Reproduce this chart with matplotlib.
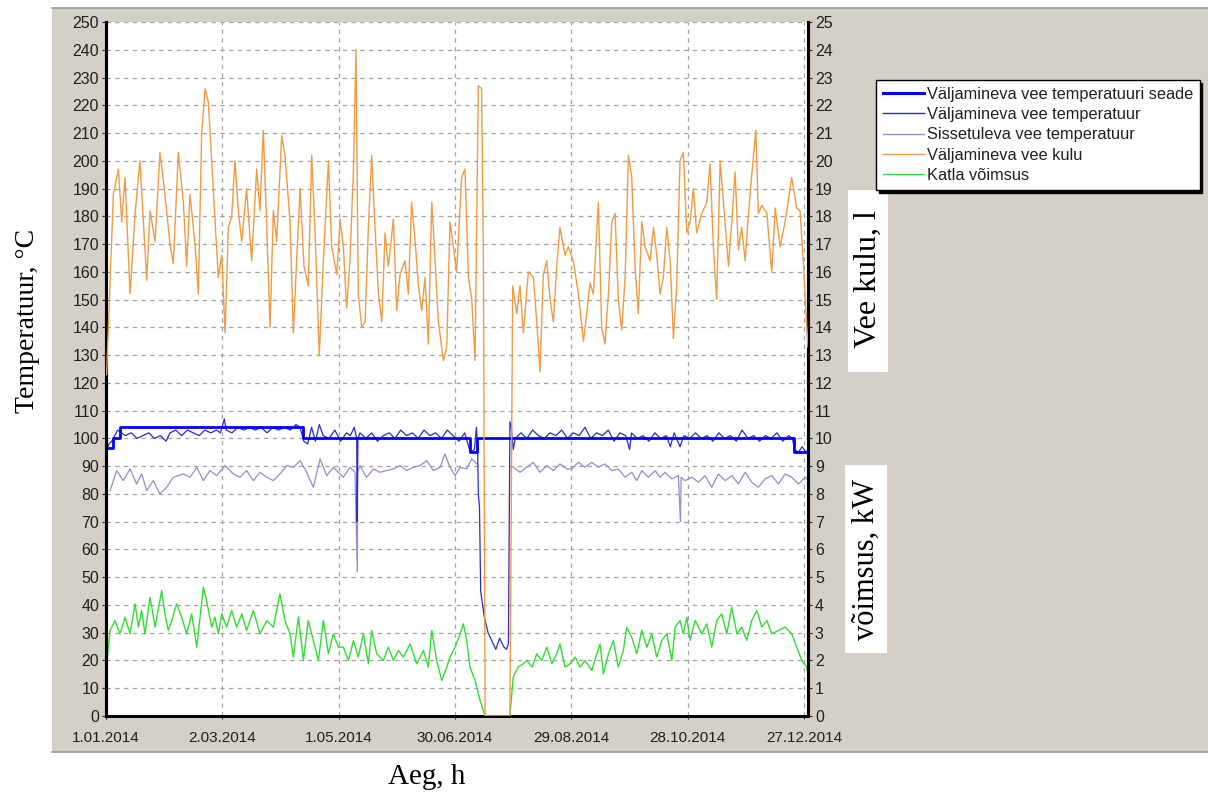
import numpy as np
import matplotlib
matplotlib.use("Agg")
import matplotlib.pyplot as plt
from matplotlib.patches import Rectangle
from matplotlib.lines import Line2D

# ---------------- data ----------------
tick_days = [0, 60, 120, 180, 240, 300, 360]
tick_labels = ["1.01.2014", "2.03.2014", "1.05.2014", "30.06.2014",
               "29.08.2014", "28.10.2014", "27.12.2014"]

# Outlet water temperature set point (°C), step changes
setpoint_days = [0, 3.8, 7, 101.8, 187.7, 191.2, 355, 362]
setpoint_vals = [96.5, 100, 104, 100, 95, 100, 95, 95]

# Outlet water temperature (°C)
out_days = [0.3, 1.5, 3, 4.5, 6, 8, 10, 13, 16, 19,
            22, 25, 28, 31, 33, 36, 39, 42, 45, 48,
            51, 54, 57, 59, 61, 62, 65, 68, 71, 74,
            77, 80, 83, 86, 89, 92, 95, 98, 100, 102,
            104, 106, 108, 110, 112, 115, 118, 121, 124, 126,
            128, 129.3, 129.5, 129.9, 131, 134, 137, 140, 143, 146,
            149, 152, 155, 158, 161, 164, 167, 170, 173, 176,
            179, 182, 185, 187, 188, 190, 191, 191.6, 192, 192.6,
            193.2, 195, 197, 199, 201, 203, 205, 206.5, 207.5, 208.3,
            209, 210, 211, 214, 217, 220, 223, 226, 229, 232,
            235, 238, 241, 244, 247, 250, 253, 256, 259, 262,
            265, 268, 270, 271, 274, 277, 280, 283, 286, 289,
            291, 293, 296, 298, 301, 304, 307, 310, 313, 316,
            319, 322, 325, 328, 331, 334, 337, 340, 343, 346,
            349, 352, 354, 355, 357, 359, 361, 362]
out_vals = [95, 98, 99, 101, 103, 102, 101, 102, 100, 101,
            102, 100, 101, 99, 102, 103, 101, 103, 102, 101,
            103, 102, 103, 102, 107, 103, 102, 104, 103, 104,
            103, 104, 102, 104, 103, 104, 103, 105, 104, 99,
            98, 104, 99, 105, 101, 100, 103, 99, 102, 101,
            104, 100, 70, 100, 102, 100, 102, 99, 101, 102,
            100, 103, 101, 102, 100, 103, 101, 102, 100, 103,
            101, 99, 102, 97, 95, 96, 104, 98, 80, 75,
            45, 36, 30, 27, 24, 28, 25, 24, 26, 106,
            104, 96, 100, 102, 100, 103, 101, 100, 102, 101,
            103, 100, 102, 101, 104, 100, 102, 101, 103, 99,
            102, 101, 96, 102, 100, 101, 99, 102, 100, 101,
            97, 102, 97, 101, 100, 102, 100, 101, 99, 102,
            100, 101, 99, 103, 100, 101, 99, 101, 100, 102,
            99, 101, 100, 96, 95, 97, 95, 96]

# Inlet water temperature (°C)
in_days = [2.1, 5.5, 8.9, 12.4, 15.8, 18.4, 21.0, 24.4, 27.8, 31.3,
           34.7, 39.9, 43.3, 46.8, 50.2, 53.6, 57.1, 61.4, 65.7, 69.1,
           72.5, 76.0, 79.4, 82.9, 86.3, 89.7, 93.2, 96.6, 100.1, 103.5,
           106.9, 110.4, 113.8, 117.2, 122.4, 125.8, 128.4, 129.6, 129.8, 130.9,
           134.4, 137.9, 141.3, 144.7, 148.2, 151.6, 155.1, 158.5, 161.9, 165.4,
           168.8, 172.3, 174.8, 177.4, 180.0, 182.6, 186.0, 188.6, 191.2, 192.0,
           210.0, 213.5, 216.9, 220.4, 223.8, 227.3, 230.7, 234.1, 237.6, 240.2,
           243.6, 247.0, 250.5, 253.9, 257.3, 260.8, 264.2, 267.7, 271.1, 273.7,
           276.3, 279.7, 283.2, 285.7, 288.3, 291.8, 295.2, 296.2, 296.6, 298.6,
           302.1, 305.5, 308.9, 312.4, 315.8, 319.3, 322.7, 326.1, 329.6, 333.0,
           336.4, 339.9, 343.3, 346.8, 350.2, 353.6, 357.1, 360.5, 362.0]
in_vals = [81.2, 88.4, 84.8, 89.0, 83.6, 87.2, 81.2, 84.8, 80.0, 82.4,
           86.0, 87.2, 86.0, 89.6, 84.8, 88.4, 86.6, 90.2, 87.2, 86.0,
           88.4, 84.8, 87.8, 86.0, 84.8, 87.2, 90.2, 89.6, 92.0, 87.8,
           82.4, 92.6, 86.6, 89.6, 86.0, 89.6, 87.8, 52.0, 88.0, 90.2,
           86.0, 89.0, 87.8, 88.4, 89.0, 90.2, 88.4, 89.6, 90.2, 92.0,
           88.4, 89.6, 94.4, 89.6, 86.6, 89.6, 89.0, 92.6, 90.8, np.nan,
           89.6, 87.8, 89.6, 91.4, 87.8, 90.2, 88.4, 90.8, 89.0, 89.0,
           91.4, 89.6, 91.4, 89.6, 90.8, 88.4, 89.0, 86.0, 87.8, 84.8,
           88.4, 86.0, 88.4, 86.0, 87.8, 85.4, 86.6, 70.0, 86.0, 84.8,
           86.0, 84.2, 86.6, 82.4, 87.2, 84.8, 86.6, 83.6, 87.8, 84.2,
           82.4, 85.4, 86.6, 83.6, 87.2, 86.0, 83.6, 86.0, 85.0]

# Outlet water flow (l), right axis
flow_days = [0.3, 2.0, 3.8, 6.4, 8.1, 9.8, 12.4, 15.0, 17.5, 19.3,
             21.0, 22.7, 25.3, 27.8, 30.4, 33.0, 34.7, 37.3, 39.9, 41.6,
             43.3, 45.9, 47.6, 49.3, 51.1, 52.8, 54.5, 56.2, 57.9, 59.7,
             61.4, 63.1, 64.8, 66.5, 68.2, 70.0, 72.5, 75.1, 77.7, 79.4,
             81.1, 82.9, 84.6, 86.3, 88.0, 90.6, 92.3, 94.9, 96.6, 98.3,
             100.1, 102.1, 104.3, 106.1, 107.8, 110.0, 112.1, 114.7, 116.4, 119.0,
             120.7, 122.4, 124.1, 125.8, 127.6, 128.9, 130.1, 131.9, 133.6, 135.3,
             137.0, 138.7, 140.5, 142.2, 143.9, 145.6, 148.2, 149.9, 151.6, 154.2,
             155.9, 157.6, 159.4, 161.1, 162.8, 164.5, 166.2, 168.0, 169.7, 171.4,
             174.0, 175.7, 177.4, 179.1, 180.8, 183.4, 185.1, 186.9, 188.6, 190.3,
             192.0, 193.7, 194.6, 195.5, 208.3, 209.7, 211.8, 213.5, 215.2, 217.8,
             220.4, 222.1, 223.8, 225.5, 227.3, 229.0, 230.7, 232.4, 234.1, 236.7,
             238.4, 241.0, 243.6, 246.2, 247.9, 249.6, 251.3, 253.9, 255.6, 257.3,
             259.1, 260.8, 262.5, 264.2, 265.9, 267.7, 269.4, 271.1, 272.8, 274.5,
             276.3, 278.0, 280.6, 282.3, 284.0, 285.7, 287.4, 289.2, 290.9, 292.6,
             294.3, 296.0, 297.7, 299.5, 301.2, 302.9, 304.6, 307.2, 309.8, 311.5,
             313.2, 314.9, 316.7, 318.4, 321.0, 322.7, 324.4, 326.1, 327.8, 329.6,
             331.3, 333.0, 335.1, 336.4, 338.2, 340.8, 343.3, 345.1, 347.6, 350.2,
             353.6, 356.2, 357.9, 359.7, 361.4, 362.0]
flow_vals = [12.3, 15.5, 18.8, 19.7, 17.8, 19.4, 15.2, 18.1, 20.0, 17.8,
             15.7, 18.2, 17.1, 20.3, 18.8, 17.0, 16.3, 20.3, 18.5, 16.2,
             18.8, 17.0, 15.2, 20.9, 22.6, 22.1, 20.0, 17.9, 15.8, 16.6,
             13.8, 17.6, 18.0, 20.0, 18.2, 17.1, 19.0, 16.4, 19.7, 18.2,
             21.1, 17.6, 14.0, 18.2, 17.1, 20.9, 20.2, 17.8, 13.8, 16.4,
             19.0, 16.2, 15.5, 20.2, 17.4, 13.0, 16.4, 20.0, 16.9, 15.9,
             17.9, 16.9, 14.7, 16.4, 19.7, 24.0, 15.2, 14.0, 14.2, 17.6,
             20.2, 17.6, 15.2, 14.2, 17.4, 16.2, 17.9, 14.6, 15.9, 16.4,
             15.2, 18.5, 17.1, 15.5, 14.6, 15.8, 13.4, 18.5, 16.4, 14.2,
             12.8, 13.3, 17.8, 16.9, 16.0, 19.4, 19.7, 15.8, 15.0, 12.8,
             22.7, 22.6, 16.6, 0.0, 0.0, 15.5, 14.5, 15.5, 13.8, 16.0,
             15.8, 14.2, 12.4, 15.9, 16.4, 15.0, 14.2, 16.2, 17.6, 16.6,
             16.9, 16.4, 15.2, 13.5, 14.5, 15.6, 15.2, 18.5, 14.0, 13.4,
             15.2, 17.8, 18.1, 15.0, 13.9, 15.8, 20.2, 19.4, 16.2, 14.5,
             17.8, 16.9, 16.4, 17.6, 16.6, 15.2, 15.8, 17.6, 16.4, 13.6,
             15.5, 20.0, 20.3, 17.4, 17.8, 19.0, 17.4, 18.1, 18.5, 19.9,
             16.9, 15.0, 20.0, 18.5, 16.2, 17.8, 19.6, 16.8, 17.6, 16.4,
             18.1, 19.5, 21.1, 18.1, 18.4, 18.1, 16.0, 18.3, 16.9, 17.8,
             19.4, 18.3, 18.2, 16.2, 14.0, 13.3]

# Boiler power (kW), right axis
power_days = [0, 2.1, 4.6, 7.2, 9.8, 12.4, 15.0, 16.7, 18.4, 20.1,
              22.7, 25.3, 28.7, 30.4, 32.1, 33.9, 36.4, 39.0, 41.6, 44.2,
              46.8, 50.2, 51.9, 54.5, 56.2, 57.9, 59.7, 62.2, 64.8, 67.4,
              70.0, 72.5, 76.0, 79.4, 82.9, 86.3, 89.7, 92.3, 94.9, 96.6,
              99.2, 101.8, 104.3, 106.9, 109.5, 112.1, 114.7, 117.2, 119.8, 122.4,
              125.0, 127.6, 130.1, 132.7, 135.3, 137.0, 139.6, 143.0, 145.6, 148.2,
              150.8, 153.3, 156.8, 160.2, 163.7, 166.2, 168.0, 170.5, 173.1, 175.7,
              177.4, 180.0, 182.6, 184.3, 186.0, 187.7, 190.3, 192.9, 195.5, 208.3,
              210.0, 212.5, 215.1, 217.0, 219.8, 222.1, 224.7, 227.3, 229.9, 232.4,
              234.1, 236.7, 239.3, 241.9, 244.5, 247.0, 250.5, 253.1, 254.8, 256.5,
              259.1, 261.6, 264.2, 266.8, 268.5, 271.1, 273.7, 276.3, 278.9, 281.4,
              284.0, 286.6, 289.2, 291.8, 293.5, 296.0, 297.7, 299.5, 301.2, 303.8,
              307.2, 309.8, 312.4, 314.9, 317.5, 320.1, 322.7, 325.3, 327.8, 330.4,
              333.0, 335.6, 338.2, 340.8, 343.3, 346.8, 350.2, 353.6, 356.2, 358.8,
              361.4, 362.0]
power_vals = [1.6, 3.08, 3.44, 2.96, 3.56, 2.96, 4.04, 3.20, 3.80, 2.96,
              4.28, 3.20, 4.52, 3.68, 3.08, 3.44, 4.04, 3.56, 2.96, 3.68,
              2.48, 4.64, 4.16, 3.20, 3.56, 2.96, 3.68, 3.20, 3.80, 3.20,
              3.68, 3.08, 3.80, 2.96, 3.44, 3.20, 4.40, 3.44, 2.96, 2.12,
              3.56, 2.00, 3.44, 2.72, 2.00, 3.44, 2.24, 2.96, 2.48, 2.48,
              2.00, 2.72, 2.12, 2.96, 1.88, 3.08, 2.24, 2.00, 2.48, 2.00,
              2.36, 2.12, 2.60, 1.88, 2.36, 1.76, 3.08, 2.00, 1.28, 1.76,
              2.12, 2.48, 2.96, 3.32, 2.72, 1.76, 1.28, 0.56, 0.0, 0.0,
              1.40, 1.76, 1.88, 2.00, 1.76, 2.24, 2.00, 2.48, 1.88, 2.24,
              2.60, 1.76, 1.88, 2.12, 1.76, 2.00, 1.64, 2.24, 2.60, 1.52,
              2.24, 2.72, 1.76, 2.36, 3.20, 2.84, 2.24, 3.08, 2.48, 2.96,
              2.12, 2.72, 2.96, 2.00, 3.20, 3.44, 2.96, 3.56, 2.72, 3.44,
              2.96, 3.32, 2.48, 3.44, 3.68, 2.96, 3.92, 2.96, 3.20, 2.72,
              3.44, 3.80, 3.20, 3.44, 2.96, 3.08, 3.20, 2.96, 2.48, 2.00,
              1.76, 1.52]

legend_labels = ["Väljamineva vee temperatuuri seade",
                 "Väljamineva vee temperatuur",
                 "Sissetuleva vee temperatuur",
                 "Väljamineva vee kulu",
                 "Katla võimsus"]

# ---------------- styles ----------------
C_SET = "#0000ff"
C_OUT = "#2a2ad0"
C_IN = "#8e8ed8"
C_FLOW = "#f29b42"
C_POW = "#33dd33"
GREY = "#d4d0c8"

W, H = 1208, 798
fig = plt.figure(figsize=(W / 100, H / 100), dpi=100)
fig.patch.set_facecolor("white")


def fx(px):
    return px / W


def fy(py):
    return 1 - py / H


# grey panel
fig.patches.append(Rectangle((fx(52), fy(752)), fx(W - 52), (752 - 8) / H,
                             transform=fig.transFigure, facecolor=GREY,
                             edgecolor="none", zorder=-10))
fig.add_artist(Line2D([fx(52), 1], [fy(8), fy(8)], color="#9c9a94", lw=1.2))
fig.add_artist(Line2D([fx(52), 1], [fy(752), fy(752)], color="#9c9a94", lw=1.2))

ax = fig.add_axes([fx(106), fy(716), fx(808 - 106), (716 - 22) / H])
ax.set_facecolor("white")
ax2 = ax.twinx()

ax.set_xlim(0, 362)
ax.set_ylim(0, 250)
ax2.set_ylim(0, 25)

ax.set_yticks(np.arange(0, 251, 10))
ax2.set_yticks(np.arange(0, 26, 1))
ax.set_xticks(tick_days)
ax.set_xticklabels(tick_labels)

ax.grid(True, color="#a4a4a4", linestyle=(0, (3.5, 3.5)), lw=0.9)
ax.set_axisbelow(True)

for lab in ax.get_yticklabels() + ax2.get_yticklabels() + ax.get_xticklabels():
    lab.set_fontfamily("Liberation Sans")
ax.tick_params(axis="y", direction="out", length=3, width=0.8, pad=2,
               labelsize=11.5, colors="#202020")
ax2.tick_params(axis="y", direction="out", length=3, width=0.8, pad=2,
                labelsize=11.5, colors="#202020")
ax.tick_params(axis="x", direction="out", length=2, width=0.8, pad=8.5,
               labelsize=11, colors="#202020")

for a in (ax, ax2):
    a.spines["top"].set_visible(False)
    a.spines["left"].set_linewidth(2.2)
    a.spines["right"].set_linewidth(2.2)
    a.spines["bottom"].set_linewidth(2.0)
    for s in ("left", "right", "bottom"):
        a.spines[s].set_color("black")

ax.plot(in_days, in_vals, color=C_IN, lw=0.9, zorder=2)
ax.plot(out_days, out_vals, color=C_OUT, lw=0.9, zorder=3)
ax.plot(setpoint_days, setpoint_vals, color=C_SET, lw=2.0,
        drawstyle="steps-post", zorder=4)
ax2.plot(power_days, power_vals, color=C_POW, lw=1.0, zorder=2)
ax2.plot(flow_days, flow_vals, color=C_FLOW, lw=1.0, zorder=3)

# legend
handles = [Line2D([], [], color=C_SET, lw=2.2),
           Line2D([], [], color=C_OUT, lw=1.0),
           Line2D([], [], color=C_IN, lw=1.0),
           Line2D([], [], color=C_FLOW, lw=1.0),
           Line2D([], [], color=C_POW, lw=1.0)]
leg = fig.legend(handles, legend_labels, loc="upper left",
                 bbox_to_anchor=(fx(876), fy(80)),
                 prop={"family": "Liberation Sans", "size": 11.8},
                 frameon=True, fancybox=False, framealpha=1,
                 edgecolor="black", facecolor="white",
                 shadow={"color": "black", "alpha": 1},
                 borderpad=0.4, labelspacing=0.33, handlelength=2.5,
                 handletextpad=0.2, borderaxespad=0)
leg.get_frame().set_linewidth(1.0)
for t in leg.get_texts():
    t.set_color("#202020")

# axis titles
serif = "Liberation Serif"
fig.text(fx(28), fy(321), "Temperatuur, °C", rotation=90, family=serif,
         size=20, ha="center", va="center")
fig.text(fx(427), fy(777), "Aeg, h", family=serif, size=21,
         ha="center", va="center")

fig.patches.append(Rectangle((fx(848), fy(372)), fx(40), 182 / H,
                             transform=fig.transFigure, facecolor="white",
                             edgecolor="none", zorder=1))
fig.text(fx(868), fy(279), "Vee kulu, l", rotation=90, family=serif,
         size=23, ha="center", va="center", zorder=2)
fig.patches.append(Rectangle((fx(845), fy(653)), fx(42), 188 / H,
                             transform=fig.transFigure, facecolor="white",
                             edgecolor="none", zorder=1))
fig.text(fx(866), fy(559), "võimsus, kW", rotation=90, family=serif,
         size=22, ha="center", va="center", zorder=2)

fig.savefig("out.png", dpi=100, facecolor=fig.get_facecolor())
